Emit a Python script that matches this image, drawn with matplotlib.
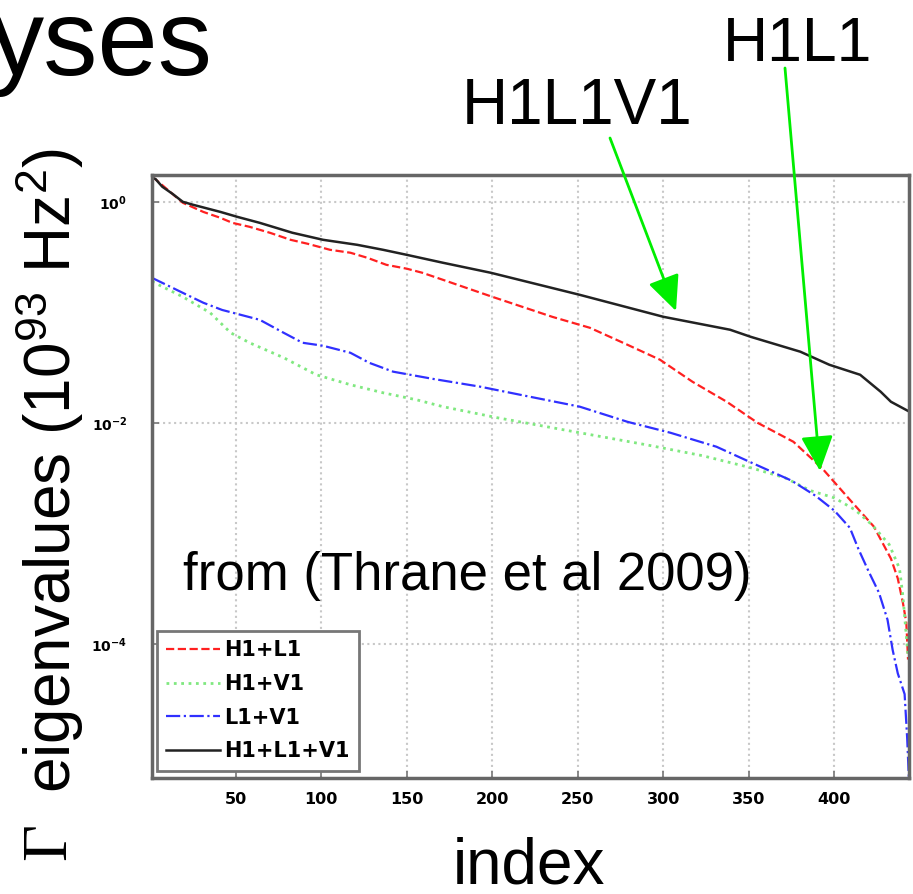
import matplotlib
matplotlib.use("Agg")
import matplotlib.pyplot as plt
from matplotlib.patches import FancyArrowPatch

plt.rcParams['font.family'] = ['Liberation Sans', 'DejaVu Sans']
plt.rcParams['mathtext.fontset'] = 'custom'
plt.rcParams['mathtext.rm'] = 'Liberation Sans'
plt.rcParams['mathtext.it'] = 'Liberation Sans:italic'
plt.rcParams['mathtext.bf'] = 'DejaVu Sans:bold'

# eigenvalues (index, value)
idx_all = [1, 3, 7, 13, 19, 25, 41, 51, 64, 83, 101, 121, 136, 150, 171, 199, 251, 300,
           339, 351, 380, 397, 415, 427, 433, 443]
val_all = [1.65, 1.61, 1.37, 1.18, 1.0, 0.94, 0.81, 0.73, 0.645, 0.525, 0.453, 0.408, 0.368,
           0.331, 0.281, 0.228, 0.144, 0.091, 0.0695, 0.060, 0.044, 0.0335, 0.0272, 0.0191,
           0.0155, 0.0128]

idx_hl = [1, 3, 19, 31, 41, 48, 58, 70, 82, 92, 105, 117, 127, 138, 150, 159, 171, 200, 235,
          257, 279, 298, 317, 337, 355, 376, 393, 409, 423, 433, 437, 440, 442, 443]
val_hl = [1.65, 1.6, 0.98, 0.81, 0.716, 0.645, 0.594, 0.524, 0.453, 0.417, 0.368, 0.346,
          0.311, 0.269, 0.248, 0.228, 0.197, 0.138, 0.091, 0.0724, 0.0508, 0.0372, 0.0235,
          0.0155, 0.0100, 0.00673, 0.00384, 0.00201, 0.00115, 5.9e-4, 3.9e-4, 2.35e-4,
          1.55e-4, 7.2e-5]

idx_hv = [1, 19, 35, 47, 58, 78, 97, 117, 136, 156, 171, 203, 251, 290, 323, 351, 371, 386,
          400, 412, 422, 432, 438, 440, 442, 443]
val_hv = [0.19, 0.138, 0.099, 0.0652, 0.053, 0.0388, 0.0272, 0.0221, 0.0187, 0.0161, 0.0140,
          0.0111, 0.00813, 0.00632, 0.00503, 0.00392, 0.00318, 0.00243, 0.00209, 0.00163,
          0.00119, 7.9e-4, 4.8e-4, 2.7e-4, 1.18e-4, 7.6e-5]

idx_lv = [1, 19, 31, 42, 64, 78, 89, 101, 117, 128, 142, 165, 193, 222, 251, 279, 304, 331,
          349, 375, 389, 400, 409, 414, 420, 426, 431, 434, 437, 441, 442.5, 443.5]
val_lv = [0.205, 0.150, 0.122, 0.105, 0.0855, 0.0652, 0.053, 0.0498, 0.043, 0.0349, 0.029,
          0.025, 0.0212, 0.0172, 0.0140, 0.0102, 0.00813, 0.00607, 0.00453, 0.00299, 0.00218,
          0.0016, 0.00112, 7.2e-4, 4.5e-4, 2.9e-4, 1.65e-4, 8.8e-5, 5.4e-5, 3.5e-5, 1.4e-5, 6e-6]

xticks = [50, 100, 150, 200, 250, 300, 350, 400]
yticks = [1, 1e-2, 1e-4]
ytick_labels = [r'$\mathbf{10^{0}}$', r'$\mathbf{10^{-2}}$', r'$\mathbf{10^{-4}}$']

W, H = 913, 894
fig = plt.figure(figsize=(W / 100, H / 100), dpi=100)
ax = fig.add_axes([0.1665, 0.1298, 0.829, 0.6745])

ax.plot(idx_hl, val_hl, '--', color='#ff2020', lw=1.6, label='H1+L1')
ax.plot(idx_hv, val_hv, ':', color='#80e880', lw=2.0, label='H1+V1')
ax.plot(idx_lv, val_lv, '-.', color='#3030ff', lw=1.6, label='L1+V1')
ax.plot(idx_all, val_all, '-', color='#222222', lw=1.8, label='H1+L1+V1')

ax.set_yscale('log')
ax.set_xlim(1, 443.5)
ax.set_ylim(6.1e-6, 1.75)
ax.set_xticks(xticks)
ax.set_xticklabels([str(t) for t in xticks], fontsize=11.5, fontweight='bold',
                   family='DejaVu Sans')
ax.set_yticks(yticks)
ax.set_yticklabels(ytick_labels, fontsize=10)
ax.minorticks_off()
ax.tick_params(direction='in', length=5, width=1.2, color='#777777', pad=10)
ax.tick_params(axis='y', pad=18)
ax.grid(True, linestyle=':', color='#c8c8c8', lw=1.5)
for s in ax.spines.values():
    s.set_color('#666666')
    s.set_linewidth(2.5)

leg = ax.legend(loc='lower left', bbox_to_anchor=(0.006, 0.012), borderaxespad=0,
                fancybox=False, framealpha=1, edgecolor='#777777',
                prop={'weight': 'bold', 'size': 15, 'family': 'DejaVu Sans'},
                handlelength=2.6, handletextpad=0.2, labelspacing=0.66, borderpad=0.45)
leg.get_frame().set_linewidth(2)

# slide text around the chart
fig.text(183 / W, 1 - 590 / H, 'from (Thrane et al 2009)', fontsize=38, ha='left',
         va='baseline')
fig.text(213 / W, 1 - 75 / H, 'yses', fontsize=78, ha='right', va='baseline')
fig.text(577 / W, 1 - 124 / H, 'H1L1V1', fontsize=46, ha='center', va='baseline')
fig.text(798 / W, 1 - 61 / H, 'H1L1', fontsize=45, ha='center', va='baseline')
fig.text(529 / W, 1 - 884 / H, 'index', fontsize=46, ha='center', va='baseline')
fig.text(50 / W, 1 - 842 / H, 'Γ', fontsize=46, family='Liberation Serif',
         rotation=90, ha='center', va='center')
fig.text(50 / W, 1 - 470 / H, r'eigenvalues (10$^{\mathrm{93}}$ Hz$^{\mathrm{2}}$)',
         fontsize=46, rotation=90, ha='center', va='center')

green = '#00ee00'
arrows = [((610, 138), (676, 311)), ((785, 68), (820, 471))]
for (x0, y0), (x1, y1) in arrows:
    fig.patches.append(FancyArrowPatch(
        (x0 / W, 1 - y0 / H), (x1 / W, 1 - y1 / H), transform=fig.transFigure,
        arrowstyle='-|>,head_length=1.2,head_width=0.55', mutation_scale=18,
        color=green, lw=2, shrinkA=0, shrinkB=0))

fig.savefig('out.png', dpi=100)
